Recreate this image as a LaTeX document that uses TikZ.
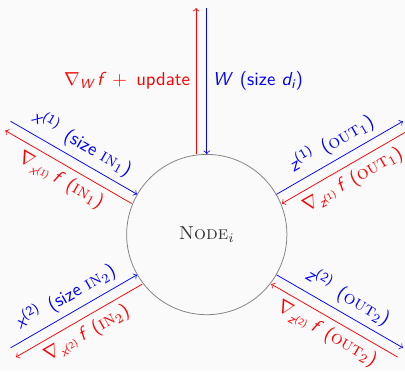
\documentclass[tikz,border=0pt]{standalone}
\usepackage{amsmath}
\usetikzlibrary{positioning}
\newcommand{\mv}[1]{\textit{#1}}
\begin{document}
\begin{tikzpicture}[
    ndcirc/.style={draw=gray, circle, minimum size=3cm, inner sep=0pt,
                   font=\normalfont\color{black!80}},
    fwd/.style={->, blue},
    bwd/.style={->, red},
    lbl/.style={font=\sffamily, inner sep=3pt}
  ]
  \fill[black!2] (-3.87,-2.56) rectangle (3.71,4.39);
  \useasboundingbox (-3.87,-2.56) rectangle (3.71,4.39);
  \node[ndcirc] (nd) at (0,0) {\textsc{Node}$_i$};
  % ends of the five ports (blue on the radius, red shifted beside it)
  \foreach \p/\a/\o in {top/90/90, ul/150/90, ll/210/90, ur/30/270, lr/330/270} {
    \coordinate (\p-bi) at (nd.\a);
    \coordinate (\p-bo) at (\a:4.24);
    \coordinate (\p-ri) at ([shift={(\a+\o:0.2)}]\p-bi);
    \coordinate (\p-ro) at ([shift={(\a+\o:0.2)}]\p-bo);
  }
  % weights
  \draw[bwd] (top-ri) -- (top-ro)
    node[lbl, midway, left] {$\nabla_{\mv{W}}\,\mv{f}$\enspace+\enspace update};
  \draw[fwd] (top-bo) -- (top-bi)
    node[lbl, midway, right] {$\mv{W}$\enspace(size $\mv{d}_{\mv{i}}$)};
  % inputs
  \draw[fwd] (ul-bo) -- (ul-bi)
    node[lbl, midway, above, sloped] {$\mv{x}^{\textup{(1)}}$\enspace(size \textsc{\rmfamily in}$_1$)};
  \draw[bwd] (ul-ri) -- (ul-ro)
    node[lbl, midway, below, sloped] {$\nabla_{\mv{x}^{\textup{(1)}}}\,\mv{f}$\enspace(\textsc{\rmfamily in}$_1$)};
  \draw[fwd] (ll-bo) -- (ll-bi)
    node[lbl, midway, above, sloped] {$\mv{x}^{\textup{(2)}}$\enspace(size \textsc{\rmfamily in}$_2$)};
  \draw[bwd] (ll-ri) -- (ll-ro)
    node[lbl, midway, below, sloped] {$\nabla_{\mv{x}^{\textup{(2)}}}\,\mv{f}$\enspace(\textsc{\rmfamily in}$_2$)};
  % outputs
  \draw[fwd] (ur-bi) -- (ur-bo)
    node[lbl, midway, above, sloped] {$\mv{z}^{\textup{(1)}}$\enspace(\textsc{\rmfamily out}$_1$)};
  \draw[bwd] (ur-ro) -- (ur-ri)
    node[lbl, midway, below, sloped] {$\nabla_{\mv{z}^{\textup{(1)}}}\,\mv{f}$\enspace(\textsc{\rmfamily out}$_1$)};
  \draw[fwd] (lr-bi) -- (lr-bo)
    node[lbl, midway, above, sloped] {$\mv{z}^{\textup{(2)}}$\enspace(\textsc{\rmfamily out}$_2$)};
  \draw[bwd] (lr-ro) -- (lr-ri)
    node[lbl, midway, below, sloped] {$\nabla_{\mv{z}^{\textup{(2)}}}\,\mv{f}$\enspace(\textsc{\rmfamily out}$_2$)};
\end{tikzpicture}
\end{document}
